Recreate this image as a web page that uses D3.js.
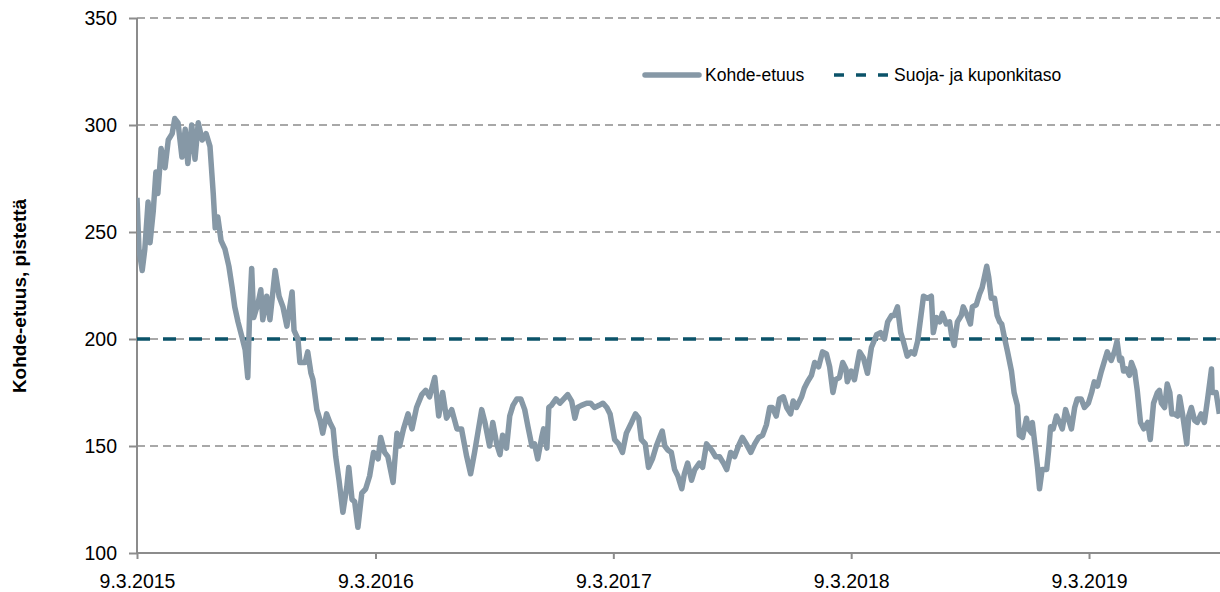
<!DOCTYPE html>
<html>
<head>
<meta charset="utf-8">
<script src="https://cdn.jsdelivr.net/npm/d3@7"></script>
<style>
  body { margin: 0; background: #fff; }
  svg { display: block; font-family: "Liberation Sans", Arial, sans-serif; }
</style>
</head>
<body>
<svg id="chart" width="1220" height="592"></svg>
<script>
// päivät alkupäivästä 9.3.2015 ja kohde-etuuden arvo, luettu kuvasta
const startLabel = "9.3.2015";
const endLabel = "26.9.2019";
const kohdeEtuus = [
  [0,266],[3,242],[8,232],[12,242],[17,264],[20,245],[25,260],[29,278],[32,268],[37,289],
  [43,280],[48,293],[54,296],[58,303],[63,301],[69,285],[74,298],[78,282],[84,300],[89,284],
  [94,301],[100,293],[106,296],[112,290],[117,268],[120,252],[124,257],[129,246],[135,242],[141,234],
  [146,224],[150,215],[155,208],[161,201],[166,195],[170,182],[173,214],[176,233],[179,210],[186,217],
  [190,223],[193,209],[199,220],[204,209],[212,232],[218,220],[224,215],[230,206],[238,222],[241,204],
  [247,200],[250,189],[258,189],[262,194],[267,184],[270,181],[276,167],[281,162],[285,156],[291,165],
  [296,161],[301,158],[305,145],[310,134],[316,119],[322,131],[325,140],[330,125],[334,124],[339,112],
  [345,128],[351,130],[357,136],[363,147],[370,144],[374,154],[380,147],[385,145],[393,133],[399,156],
  [403,150],[409,158],[416,165],[422,158],[429,168],[437,174],[443,176],[449,173],[457,182],[463,164],
  [469,175],[475,163],[483,167],[491,158],[498,158],[506,145],[512,137],[518,147],[523,156],[529,167],
  [534,161],[541,150],[546,161],[552,151],[557,146],[561,155],[567,149],[572,164],[577,169],[583,172],
  [589,172],[595,167],[600,159],[606,150],[610,151],[615,144],[621,154],[624,158],[629,149],[632,168],
  [636,169],[643,172],[649,170],[655,172],[661,174],[667,171],[672,163],[676,168],[682,169],[690,170],
  [696,170],[702,168],[709,169],[715,170],[721,168],[726,165],[733,153],[739,151],[745,147],[751,156],
  [759,161],[765,165],[770,163],[774,153],[780,151],[785,140],[791,144],[797,150],[802,154],[806,157],
  [810,150],[815,148],[820,147],[825,139],[830,136],[836,130],[840,137],[845,142],[851,134],[856,139],
  [863,142],[868,140],[874,151],[882,148],[888,145],[894,145],[900,142],[905,139],[911,147],[917,145],
  [923,150],[929,154],[935,151],[942,147],[948,151],[954,154],[960,155],[966,160],[971,168],[975,168],
  [981,164],[986,172],[992,173],[997,168],[1003,165],[1007,171],[1012,168],[1020,173],[1024,177],[1029,180],
  [1035,183],[1040,189],[1046,187],[1052,194],[1058,193],[1063,187],[1068,175],[1072,181],[1078,182],[1083,189],
  [1088,186],[1090,180],[1096,185],[1101,181],[1109,194],[1115,191],[1121,184],[1127,196],[1135,202],[1141,203],
  [1147,200],[1152,208],[1158,211],[1162,211],[1167,215],[1172,203],[1176,199],[1182,192],[1188,194],[1193,193],
  [1198,199],[1204,213],[1207,220],[1213,219],[1219,220],[1222,203],[1227,210],[1232,208],[1236,212],[1242,207],
  [1247,208],[1250,202],[1254,197],[1259,208],[1265,211],[1268,215],[1274,211],[1279,207],[1282,215],[1288,216],
  [1293,221],[1297,224],[1304,234],[1307,229],[1311,219],[1316,219],[1320,211],[1324,208],[1327,207],[1331,201],
  [1336,194],[1342,185],[1346,175],[1351,169],[1354,155],[1359,154],[1365,163],[1368,158],[1373,156],[1374,161],
  [1379,148],[1382,140],[1385,130],[1389,139],[1396,139],[1399,148],[1402,159],[1406,158],[1411,164],[1416,161],
  [1420,158],[1425,167],[1428,164],[1434,158],[1439,168],[1443,172],[1449,172],[1454,168],[1460,170],[1465,175],
  [1469,180],[1474,178],[1480,185],[1484,189],[1489,194],[1495,190],[1500,194],[1504,199],[1508,190],[1511,191],
  [1514,185],[1518,186],[1523,183],[1526,189],[1531,185],[1535,176],[1540,161],[1545,158],[1551,161],[1555,153],
  [1560,170],[1566,175],[1569,176],[1572,170],[1577,168],[1581,179],[1585,175],[1588,165],[1592,165],[1597,164],
  [1600,173],[1605,164],[1611,151],[1614,164],[1618,168],[1623,162],[1627,161],[1633,165],[1638,161],[1643,172],
  [1649,186],[1650,175],[1656,175],[1661,165]
];
const suojaTaso = 200;
const yTicks = [100, 150, 200, 250, 300, 350];
const xTickLabels = ["9.3.2015", "9.3.2016", "9.3.2017", "9.3.2018", "9.3.2019"];
const legendLabels = ["Kohde-etuus", "Suoja- ja kuponkitaso"];
const yTitle = "Kohde-etuus, pistettä";

const lineColor = "#8698a6";
const levelColor = "#0b5369";
const gridColor = "#8c8c8c";

let parseDate = d3.timeParse("%d.%m.%Y");
let start = parseDate(startLabel);

let plot = { left: 137, right: 1220, top: 18, bottom: 553 };

let svg = d3.select("#chart");

let x = d3
  .scaleTime()
  .domain([start, parseDate(endLabel)])
  .range([plot.left, plot.right]);

let y = d3
  .scaleLinear()
  .domain([100, 350])
  .range([plot.bottom, plot.top]);

let data = kohdeEtuus.map(d => ({ date: d3.timeDay.offset(start, d[0]), value: d[1] }));

// vaakasuorat katkoviivat
svg
  .append("g")
  .selectAll("line")
  .data(yTicks.filter(t => t > 100))
  .enter()
  .append("line")
  .attr("x1", plot.left)
  .attr("x2", plot.right)
  .attr("y1", d => y(d))
  .attr("y2", d => y(d))
  .attr("stroke", gridColor)
  .attr("stroke-width", 1.5)
  .attr("stroke-dasharray", "8,5");

// y-akseli
let yAxis = svg
  .append("g")
  .attr("transform", `translate(${plot.left},0)`)
  .call(d3.axisLeft(y).tickValues(yTicks).tickSize(8).tickPadding(12));

// x-akseli
let xAxis = svg
  .append("g")
  .attr("transform", `translate(0,${plot.bottom})`)
  .call(
    d3
      .axisBottom(x)
      .tickValues(xTickLabels.map(parseDate))
      .tickFormat((d, i) => xTickLabels[i])
      .tickSize(6)
      .tickPadding(10)
  );

[yAxis, xAxis].forEach(a => {
  a.select(".domain").attr("stroke", gridColor).attr("stroke-width", 2);
  a.selectAll(".tick line").attr("stroke", gridColor).attr("stroke-width", 2);
  a.selectAll("text")
    .attr("fill", "#000")
    .style("font-size", "19.5px")
    .style("font-family", "Liberation Sans, Arial, sans-serif");
});
yAxis.select(".domain").attr("d", `M0,${plot.top}V${plot.bottom}`);
xAxis.select(".domain").attr("d", `M${plot.left},0H${plot.right}`);
xAxis.selectAll("text").attr("dy", "0.95em");

// suoja- ja kuponkitaso
svg
  .append("line")
  .attr("x1", plot.left)
  .attr("x2", plot.right)
  .attr("y1", y(suojaTaso))
  .attr("y2", y(suojaTaso))
  .attr("stroke", levelColor)
  .attr("stroke-width", 3.5)
  .attr("stroke-dasharray", "13,13");

// kohde-etuus
svg
  .append("clipPath")
  .attr("id", "clip")
  .append("rect")
  .attr("x", plot.left)
  .attr("y", 0)
  .attr("width", plot.right - plot.left)
  .attr("height", plot.bottom);

svg
  .append("path")
  .datum(data)
  .attr("clip-path", "url(#clip)")
  .attr("fill", "none")
  .attr("stroke", lineColor)
  .attr("stroke-width", 5.5)
  .attr("stroke-linejoin", "round")
  .attr("d", d3.line().x(d => x(d.date)).y(d => y(d.value)));

// akselin otsikko
svg
  .append("text")
  .attr("transform", "translate(26,296) rotate(-90)")
  .attr("text-anchor", "middle")
  .style("font-size", "19px")
  .style("font-weight", "bold")
  .text(yTitle);

// selite
let legend = svg.append("g").attr("transform", "translate(0,75)");

legend
  .append("line")
  .attr("x1", 645)
  .attr("x2", 699)
  .attr("stroke", lineColor)
  .attr("stroke-width", 5.5)
  .attr("stroke-linecap", "round");

legend
  .append("line")
  .attr("x1", 834)
  .attr("x2", 888)
  .attr("stroke", levelColor)
  .attr("stroke-width", 3.5)
  .attr("stroke-dasharray", "10,12");

legend
  .selectAll("text")
  .data(legendLabels)
  .enter()
  .append("text")
  .attr("x", (d, i) => (i === 0 ? 705 : 894))
  .attr("dy", "0.35em")
  .style("font-size", "17.5px")
  .text(d => d);
</script>
</body>
</html>
